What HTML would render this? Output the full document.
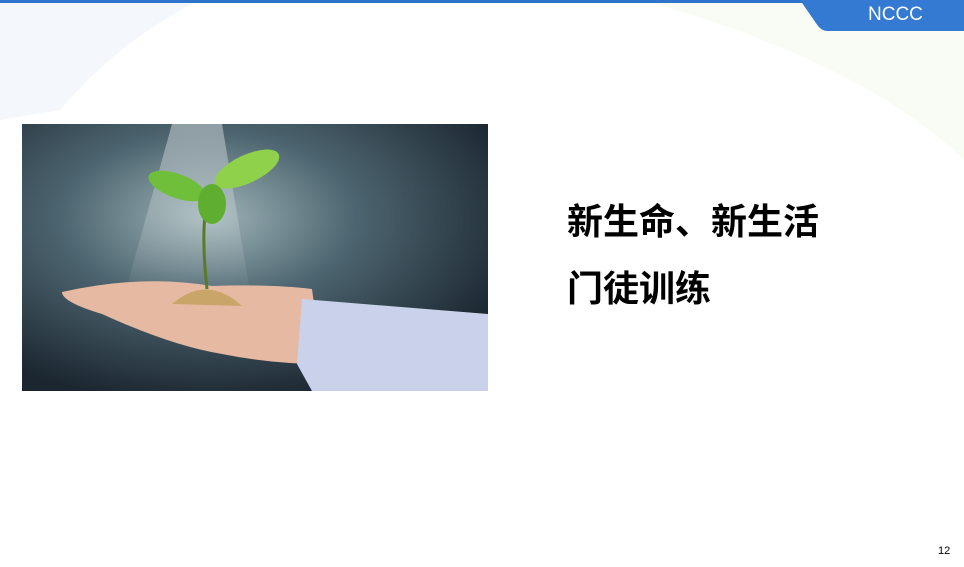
<!DOCTYPE html>
<html><head><meta charset="utf-8"><style>
html,body{margin:0;padding:0}
body{width:964px;height:567px;position:relative;overflow:hidden;background:#fff;font-family:"Liberation Sans","Noto Sans CJK SC",sans-serif}
.abs{position:absolute}
</style></head><body>
<svg class="abs" style="left:0;top:0" width="964" height="567">
<defs>
<radialGradient id="bg" cx="0.4" cy="0.35" r="0.7"><stop offset="0" stop-color="#9fb4b8"/><stop offset="0.45" stop-color="#4d6570"/><stop offset="1" stop-color="#1b2630"/></radialGradient>
</defs>
<rect width="964" height="567" fill="#fff"/>
<path d="M0 0 L200 0 Q120 40 60 110 L0 120 Z" fill="#f4f8fc"/>
<path d="M640 0 L964 0 L964 160 Q860 60 640 0 Z" fill="#f9fcf4"/>
<rect x="0" y="0" width="964" height="3" fill="#2f74cc"/>
<path d="M800 0 L964 0 L964 31 L828 31 Q822 31 818 26 Z" fill="#3479d2"/>
</svg>
<div class="abs" style="left:868px;top:4px;color:#fff;font-size:19px;">NCCC</div>
<svg class="abs" style="left:22px;top:124px" width="466" height="267">
<defs>
<radialGradient id="bg2" cx="0.4" cy="0.35" r="0.7"><stop offset="0" stop-color="#9fb4b8"/><stop offset="0.45" stop-color="#4d6570"/><stop offset="1" stop-color="#1b2630"/></radialGradient>
<linearGradient id="beam" x1="0" y1="0" x2="0" y2="1"><stop offset="0" stop-color="#fff" stop-opacity="0.8"/><stop offset="1" stop-color="#fff" stop-opacity="0"/></linearGradient>
</defs>
<rect width="466" height="267" fill="url(#bg2)"/>
<path d="M150 0 L200 0 L230 180 L100 180 Z" fill="url(#beam)" opacity="0.5"/>
<path d="M40 168 Q120 150 190 162 Q250 160 290 165 L300 240 Q250 240 200 230 Q150 222 80 190 Q40 178 40 168 Z" fill="#e6b9a2"/>
<path d="M280 175 L466 190 L466 267 L290 267 L275 240 Z" fill="#c9d2ea"/>
<path d="M150 180 Q185 150 220 182 Z" fill="#c9a56a"/>
<path d="M185 165 Q180 120 183 90" stroke="#5a7a2a" stroke-width="3" fill="none"/>
<ellipse cx="155" cy="62" rx="30" ry="12" fill="#6fbf3a" transform="rotate(20 155 62)"/>
<ellipse cx="225" cy="45" rx="35" ry="14" fill="#8fd14a" transform="rotate(-25 225 45)"/>
<ellipse cx="190" cy="80" rx="14" ry="20" fill="#5fae2f"/>
</svg>
<div class="abs" style="left:567px;top:188px;font-size:36px;font-weight:bold;color:#000;line-height:67px;">新生命、新生活<br>门徒训练</div>
<div class="abs" style="left:938px;top:545px;font-size:11px;color:#000;">12</div>
</body></html>
